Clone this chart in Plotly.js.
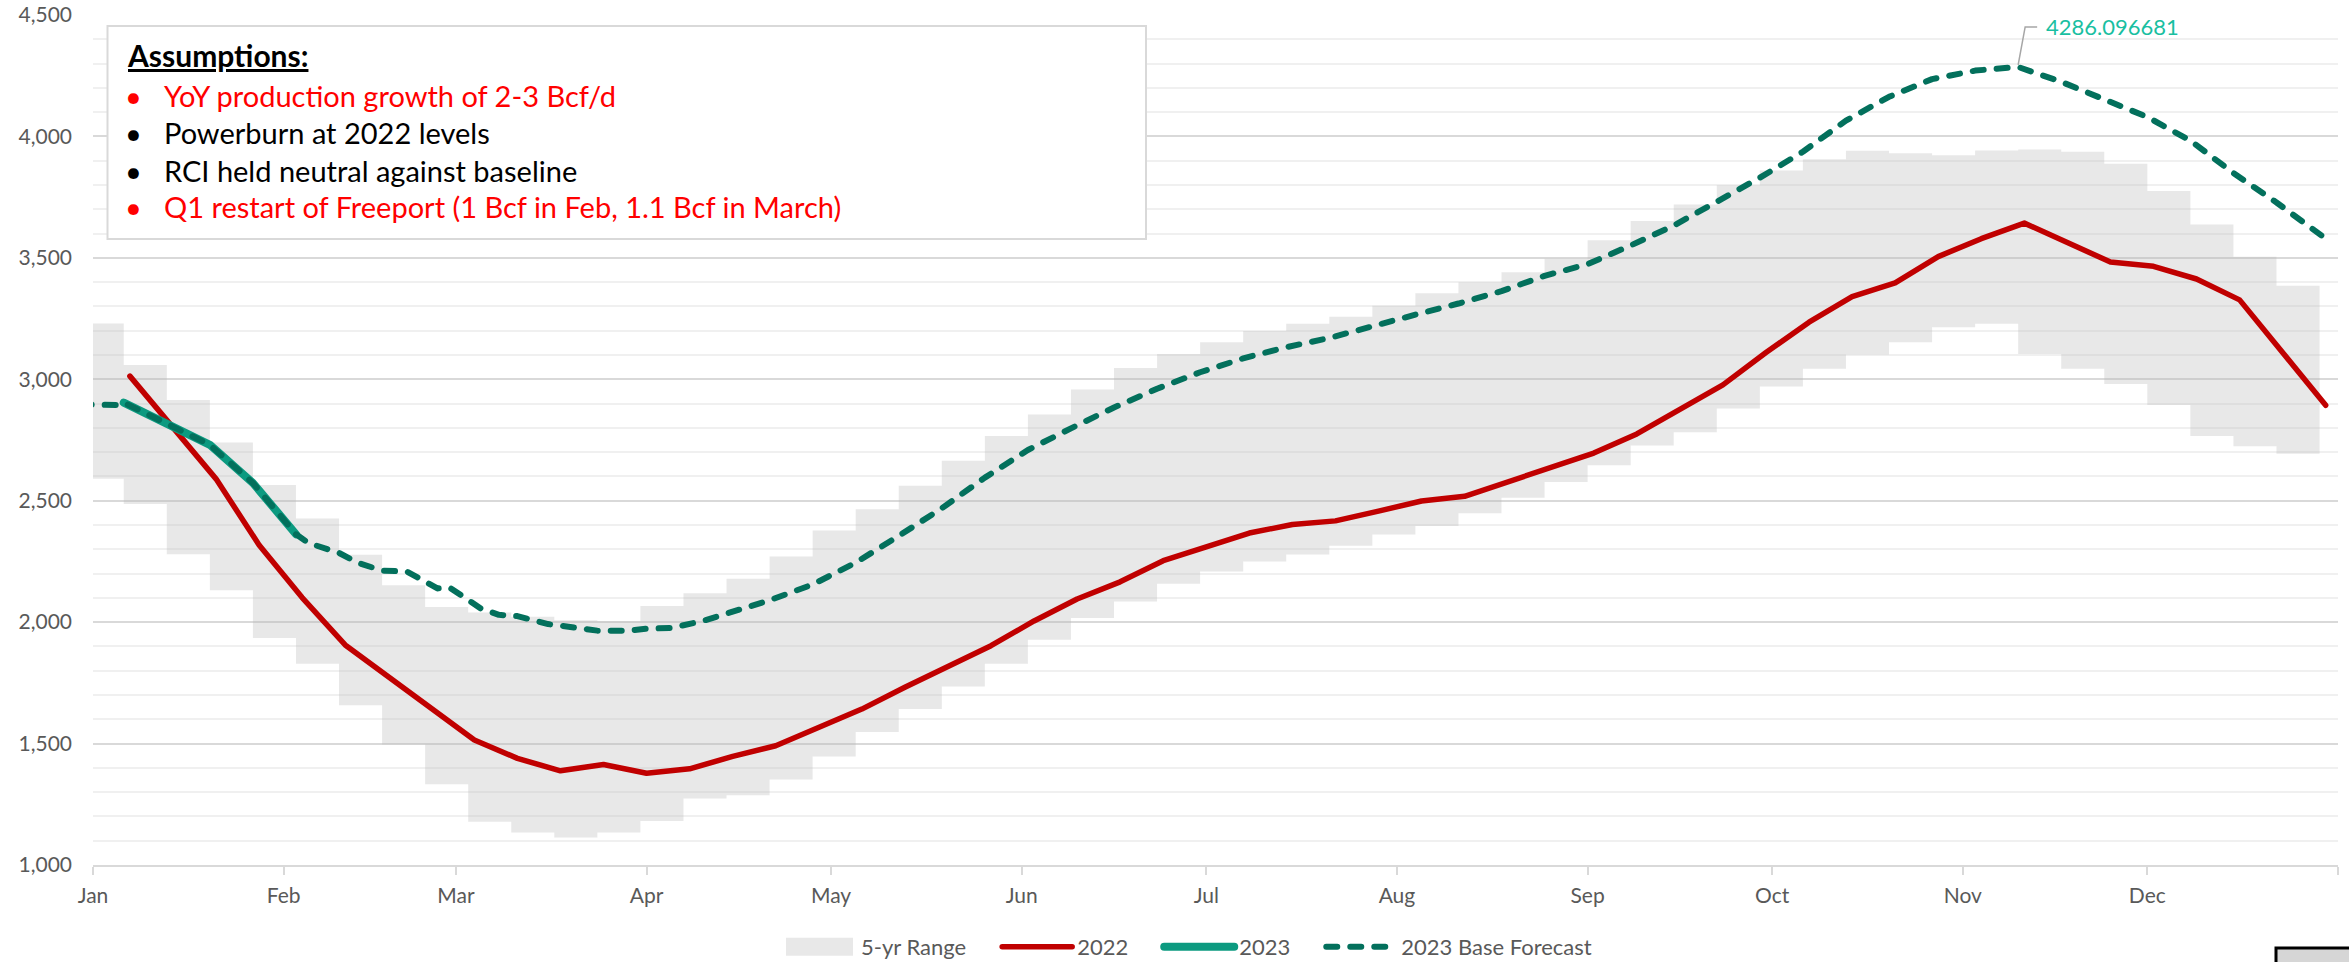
<!DOCTYPE html>
<html><head><meta charset="utf-8">
<script src="https://cdn.plot.ly/plotly-3.0.1.min.js"></script>
<style>
html,body{margin:0;padding:0;background:#fff}
#chart{width:2349px;height:962px}
.scatterlayer .js-line{stroke-linecap:round;stroke-linejoin:round}
.legendlines path{stroke-linecap:round}
</style>
</head><body><div id="chart"></div>
<script>
// ---- 5-yr range (weekly, step) ----
const rangeDates = ['2022-12-30','2023-01-06','2023-01-13','2023-01-20','2023-01-27','2023-02-03','2023-02-10','2023-02-17','2023-02-24','2023-03-03','2023-03-10','2023-03-17','2023-03-24','2023-03-31','2023-04-07','2023-04-14','2023-04-21','2023-04-28','2023-05-05','2023-05-12','2023-05-19','2023-05-26','2023-06-02','2023-06-09','2023-06-16','2023-06-23','2023-06-30','2023-07-07','2023-07-14','2023-07-21','2023-07-28','2023-08-04','2023-08-11','2023-08-18','2023-08-25','2023-09-01','2023-09-08','2023-09-15','2023-09-22','2023-09-29','2023-10-06','2023-10-13','2023-10-20','2023-10-27','2023-11-03','2023-11-10','2023-11-17','2023-11-24','2023-12-01','2023-12-08','2023-12-15','2023-12-22','2023-12-29'];
const rangeMax = [3230,3059,2915,2740,2565,2427,2277,2152,2062,2040,2022,2008,2004,2066,2119,2179,2270,2377,2465,2562,2665,2766,2855,2958,3046,3104,3153,3199,3229,3257,3303,3354,3400,3441,3496,3573,3652,3720,3799,3860,3906,3941,3931,3922,3942,3946,3937,3887,3775,3637,3505,3385,3385];
const rangeMin = [2590,2486,2280,2131,1935,1829,1658,1496,1333,1178,1134,1113,1134,1181,1274,1287,1352,1447,1548,1642,1735,1829,1927,2017,2085,2158,2209,2250,2279,2315,2361,2396,2448,2512,2577,2646,2727,2782,2880,2970,3043,3102,3152,3214,3229,3104,3043,2981,2894,2766,2724,2693,2693];

// ---- 2022 storage (weekly, plotted on the same calendar) ----
const dates2022 = ['2023-01-07','2023-01-14','2023-01-21','2023-01-28','2023-02-04','2023-02-11','2023-02-18','2023-02-25','2023-03-04','2023-03-11','2023-03-18','2023-03-25','2023-04-01','2023-04-08','2023-04-15','2023-04-22','2023-04-29','2023-05-06','2023-05-13','2023-05-20','2023-05-27','2023-06-03','2023-06-10','2023-06-17','2023-06-24','2023-07-01','2023-07-08','2023-07-15','2023-07-22','2023-07-29','2023-08-05','2023-08-12','2023-08-19','2023-08-26','2023-09-02','2023-09-09','2023-09-16','2023-09-23','2023-09-30','2023-10-07','2023-10-14','2023-10-21','2023-10-28','2023-11-04','2023-11-11','2023-11-18','2023-11-25','2023-12-02','2023-12-09','2023-12-16','2023-12-23','2023-12-30'];
const values2022 = [3013,2798,2590,2318,2101,1906,1776,1642,1515,1439,1388,1414,1378,1396,1447,1491,1569,1642,1732,1818,1903,2005,2095,2166,2253,2310,2367,2402,2417,2457,2499,2518,2577,2637,2696,2775,2874,2977,3110,3235,3340,3397,3505,3579,3643,3564,3483,3465,3413,3327,3110,2893];

// ---- 2023 actual ----
const dates2023 = ['2023-01-06','2023-01-13','2023-01-20','2023-01-27','2023-02-03'];
const values2023 = [2904,2815,2730,2573,2362];

// ---- 2023 base forecast ----
const forecastDates = ['2022-12-30','2023-01-05','2023-01-06','2023-01-13','2023-01-20','2023-01-27','2023-02-03','2023-02-05','2023-02-10','2023-02-13','2023-02-17','2023-02-21','2023-02-26','2023-02-28','2023-03-05','2023-03-08','2023-03-11','2023-03-16','2023-03-20','2023-03-24','2023-03-29','2023-04-01','2023-04-05','2023-04-10','2023-04-14','2023-04-21','2023-04-28','2023-05-05','2023-05-12','2023-05-19','2023-05-26','2023-06-02','2023-06-09','2023-06-16','2023-06-23','2023-06-30','2023-07-07','2023-07-14','2023-07-21','2023-07-28','2023-08-04','2023-08-11','2023-08-18','2023-08-25','2023-09-01','2023-09-08','2023-09-15','2023-09-22','2023-09-29','2023-10-06','2023-10-13','2023-10-20','2023-10-27','2023-11-03','2023-11-10','2023-11-17','2023-11-24','2023-12-01','2023-12-08','2023-12-15','2023-12-22','2023-12-30'];
const forecastValues = [2896,2894,2904,2815,2730,2573,2362,2326,2285,2245,2212,2209,2139,2142,2057,2030,2025,1992,1976,1965,1965,1973,1976,2004,2035,2090,2155,2245,2355,2469,2595,2709,2798,2884,2961,3029,3086,3132,3170,3215,3266,3312,3363,3426,3474,3551,3633,3731,3830,3937,4065,4163,4236,4271,4286.096681,4225,4154,4080,3983,3849,3728,3579];

// ---- axis ticks ----
const monthTicks = ['2023-01-01','2023-02-01','2023-03-01','2023-04-01','2023-05-01','2023-06-01','2023-07-01','2023-08-01','2023-09-01','2023-10-01','2023-11-01','2023-12-01','2024-01-01'];
const monthLabels = ['Jan','Feb','Mar','Apr','May','Jun','Jul','Aug','Sep','Oct','Nov','Dec',''];

// ---- assumptions box ----
const assumptionTitle = 'Assumptions:';
const assumptionTexts = ['YoY production growth of 2-3 Bcf/d','Powerburn at 2022 levels','RCI held neutral against baseline','Q1 restart of Freeport (1 Bcf in Feb, 1.1 Bcf in March)'];
const assumptionColors = ['#FF0000','#000000','#000000','#FF0000'];

// ---- layout helpers (pixel -> paper) ----
const W = 2349, H = 962, ML = 93, MR = 11, MT = 15, MB = 97;
const PW = W - ML - MR, PH = H - MT - MB;
const px = x => (x - ML) / PW;
const py = y => (H - MB - y) / PH;

const FONT = 'Lato, "Open Sans", sans-serif';

const traces = [
  {x: rangeDates, y: rangeMin, mode: 'lines', line: {width: 0, shape: 'hv'}, showlegend: false, hoverinfo: 'skip', name: '5-yr min'},
  {x: rangeDates, y: rangeMax, mode: 'lines', line: {width: 0, shape: 'hv'}, fill: 'tonexty', fillcolor: 'rgba(185,185,185,0.32)', name: '5-yr Range'},
  {x: dates2022, y: values2022, mode: 'lines', line: {color: '#C00000', width: 5.5}, name: '2022'},
  {x: dates2023, y: values2023, mode: 'lines', line: {color: '#0C9A80', width: 8}, name: '2023'},
  {x: forecastDates, y: forecastValues, mode: 'lines', line: {color: '#03705C', width: 6, dash: '11px,13px'}, name: '2023 Base Forecast'}
];

// peak label
let iMax = 0;
forecastValues.forEach((v, i) => { if (v > forecastValues[iMax]) iMax = i; });
const peakX = forecastDates[iMax], peakY = forecastValues[iMax];

const shapes = [
  {type: 'rect', xref: 'paper', yref: 'paper', x0: px(107.5), x1: px(1146), y0: py(239), y1: py(26),
   line: {color: '#D9D9D9', width: 2}, fillcolor: '#FFFFFF', layer: 'above'},
  {type: 'path', xref: 'x', yref: 'y', xsizemode: 'pixel', ysizemode: 'pixel', xanchor: peakX, yanchor: peakY,
   path: 'M0,2 L7,40 L19,40', line: {color: '#A6A6A6', width: 1.5}},
  {type: 'rect', xref: 'paper', yref: 'paper', x0: px(2276), x1: px(2420), y0: py(948), y1: py(1010),
   line: {color: '#000000', width: 3}, fillcolor: '#D6D6D6'}
];

const rowY = [95, 132, 170, 207];
const annotations = [
  {xref: 'paper', yref: 'paper', x: px(125), y: py(55), xanchor: 'left', yanchor: 'middle', showarrow: false,
   text: '<b><u>' + assumptionTitle + '</u></b>', font: {family: FONT, size: 30, color: '#000000'}},
  {x: peakX, y: peakY, xref: 'x', yref: 'y', xanchor: 'left', yanchor: 'middle', showarrow: false,
   xshift: 26, yshift: 40, text: String(peakY), font: {family: FONT, size: 22, color: '#19BFA1'}}
];
assumptionTexts.forEach((t, i) => {
  annotations.push({xref: 'paper', yref: 'paper', x: px(133), y: py(rowY[i]), xanchor: 'center', yanchor: 'middle',
    showarrow: false, text: '•', font: {family: FONT, size: 29, color: assumptionColors[i]}});
  annotations.push({xref: 'paper', yref: 'paper', x: px(162), y: py(rowY[i]), xanchor: 'left', yanchor: 'middle',
    showarrow: false, text: t, font: {family: FONT, size: 29, color: assumptionColors[i]}});
});

const layout = {
  width: W, height: H,
  margin: {l: ML, r: MR, t: MT, b: MB, pad: 0, autoexpand: false},
  paper_bgcolor: '#FFFFFF', plot_bgcolor: '#FFFFFF',
  font: {family: FONT, color: '#595959', size: 21},
  xaxis: {
    type: 'date', range: ['2023-01-01', '2024-01-01'],
    tickvals: monthTicks, ticktext: monthLabels,
    ticks: 'outside', ticklen: 8, tickwidth: 2, tickcolor: '#D9D9D9',
    showline: true, linecolor: '#D9D9D9', linewidth: 2,
    showgrid: false, zeroline: false, automargin: false,
    tickfont: {family: FONT, size: 21, color: '#595959'},
    ticklabelstandoff: 3
  },
  yaxis: {
    range: [1000, 4500], tick0: 1000, dtick: 500, tickformat: ',d',
    showgrid: true, gridcolor: '#D9D9D9', gridwidth: 2,
    minor: {dtick: 100, showgrid: true, gridcolor: '#F0F0F0', gridwidth: 2},
    zeroline: false, showline: false, ticks: '', automargin: false,
    tickfont: {family: FONT, size: 21, color: '#595959'},
    ticklabelstandoff: 20
  },
  showlegend: true,
  legend: {
    orientation: 'h', x: px(781), xanchor: 'left', y: py(947), yanchor: 'middle',
    font: {family: FONT, size: 22, color: '#595959'}, itemwidth: 70, traceorder: 'normal',
    bgcolor: 'rgba(0,0,0,0)'
  },
  shapes: shapes,
  annotations: annotations
};

Plotly.newPlot('chart', traces, layout, {staticPlot: true}).then(() => {
  // taller 5-yr range swatch
  document.querySelectorAll('.legendfill path').forEach(p => p.setAttribute('d', 'M5,-9h67v18h-67z'));
  // wider spacing between legend entries
  const EXTRA = 26;
  document.querySelectorAll('.legend .traces').forEach((g, i) => {
    const t = g.getAttribute('transform') || '';
    const m = /translate\(\s*([-\d.e]+)[\s,]+([-\d.e]+)\s*\)/.exec(t);
    if (m) g.setAttribute('transform', 'translate(' + (parseFloat(m[1]) + i * EXTRA) + ',' + m[2] + ')');
  });
  document.querySelectorAll('clipPath[id*="legend"] rect').forEach(r => {
    const w = parseFloat(r.getAttribute('width') || '0');
    r.setAttribute('width', w + 200);
  });
  const bg = document.querySelector('.legend .bg');
  if (bg) { const w = parseFloat(bg.getAttribute('width') || '0'); bg.setAttribute('width', w + 200); }
});
</script>
</body></html>
